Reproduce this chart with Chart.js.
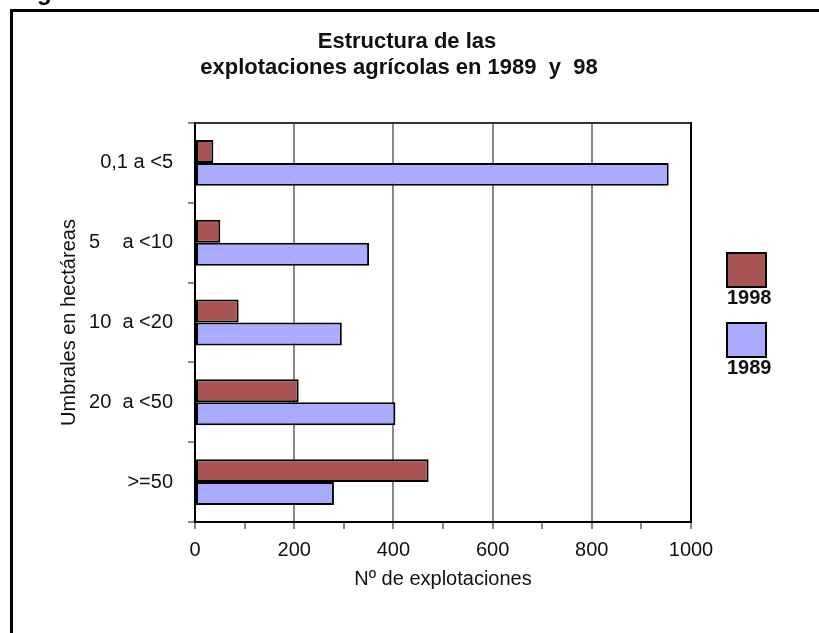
<!DOCTYPE html>
<html>
<head>
<meta charset="utf-8">
<script src="https://cdn.jsdelivr.net/npm/chart.js@4.4.1/dist/chart.umd.min.js"></script>
<style>
  html, body { margin: 0; padding: 0; background: #fff; }
  #wrap { position: relative; width: 819px; height: 633px; }
  canvas { display: block; }
</style>
</head>
<body>
<div id="wrap"><canvas id="c" width="819" height="633"></canvas></div>
<script>
const categories = ["0,1 a <5", "5    a <10", "10  a <20", "20  a <50", ">=50"];
const seriesNames = ["1998", "1989"];
const values1998 = [37, 51, 88, 209, 471];
const values1989 = [955, 351, 296, 404, 280];
const xTickValues = [0, 200, 400, 600, 800, 1000];
const titleLines = ["Estructura de las", "explotaciones agrícolas en 1989  y  98"];
const xTitle = "Nº de explotaciones";
const yTitle = "Umbrales en hectáreas";

const colors = ["#AA5555", "#AAAAFF"];
const FONT = "'Liberation Sans', Arial, Helvetica, sans-serif";

const decor = {
  id: 'decor',
  afterDraw(chart) {
    const ctx = chart.ctx;
    const a = chart.chartArea;
    ctx.save();
    // outer frame
    ctx.strokeStyle = '#000';
    ctx.lineWidth = 3;
    ctx.beginPath();
    ctx.moveTo(11.5, 640);
    ctx.lineTo(11.5, 10.5);
    ctx.lineTo(830, 10.5);
    ctx.stroke();
    // clipped heading fragment
    ctx.fillStyle = '#000';
    ctx.font = "bold 24px " + FONT;
    ctx.textBaseline = 'alphabetic';
    ctx.textAlign = 'left';
    ctx.fillText('g', 37, 0);
    // title
    ctx.fillStyle = '#111';
    ctx.font = "bold 22px " + FONT;
    ctx.textAlign = 'center';
    ctx.textBaseline = 'middle';
    ctx.fillText(titleLines[0], 407, 42);
    ctx.fillText(titleLines[1], 399, 68);
    // plot top and right borders
    ctx.lineWidth = 2;
    ctx.strokeStyle = '#333';
    ctx.beginPath();
    ctx.moveTo(a.left, a.top);
    ctx.lineTo(a.right, a.top);
    ctx.stroke();
    ctx.strokeStyle = '#000';
    ctx.beginPath();
    ctx.moveTo(a.right, a.top - 1);
    ctx.lineTo(a.right, a.bottom);
    ctx.stroke();
    // legend
    const boxes = [253, 323];
    seriesNames.forEach((n, i) => {
      const y = boxes[i];
      ctx.fillStyle = colors[i];
      ctx.fillRect(727, y, 39, 34);
      ctx.strokeStyle = '#000';
      ctx.lineWidth = 2;
      ctx.strokeRect(727, y, 39, 34);
      ctx.fillStyle = '#111';
      ctx.font = "bold 20px " + FONT;
      ctx.textBaseline = 'middle';
      ctx.textAlign = 'left';
      ctx.fillText(n, 727, y + 45);
    });
    ctx.restore();
  }
};

new Chart(document.getElementById('c'), {
  type: 'bar',
  data: {
    labels: categories,
    datasets: [
      { label: seriesNames[0], data: values1998, backgroundColor: colors[0], borderColor: '#000', borderWidth: 2, borderSkipped: false },
      { label: seriesNames[1], data: values1989, backgroundColor: colors[1], borderColor: '#000', borderWidth: 2, borderSkipped: false }
    ]
  },
  options: {
    indexAxis: 'y',
    responsive: false,
    animation: false,
    devicePixelRatio: 1,
    categoryPercentage: 0.575,
    barPercentage: 1.0,
    layout: { padding: { left: 0, top: 123, right: 128, bottom: 0 } },
    plugins: {
      legend: { display: false },
      tooltip: { enabled: false },
      title: { display: false }
    },
    scales: {
      x: {
        min: 0, max: 1000,
        afterFit(s) { s.height = 111; },
        afterBuildTicks(s) {
          const t = [];
          for (let v = 0; v <= 1000; v += 100) t.push({ value: v });
          s.ticks = t;
        },
        ticks: {
          color: '#111',
          font: { family: FONT, size: 20 },
          padding: 9,
          maxRotation: 0,
          autoSkip: false,
          callback: (v) => xTickValues.includes(v) ? String(v) : ''
        },
        grid: {
          color: (c) => (c.tick && xTickValues.includes(c.tick.value)) ? '#888' : 'rgba(0,0,0,0)',
          tickColor: '#888',
          lineWidth: 2,
          tickLength: 7
        },
        border: { display: true, color: '#000', width: 2 },
        title: {
          display: true, text: xTitle, color: '#111',
          font: { family: FONT, size: 20 },
          padding: { top: 0, bottom: 42 }
        }
      },
      y: {
        afterFit(s) { s.width = 195; },
        ticks: {
          color: '#111',
          font: { family: FONT, size: 20 },
          padding: 15
        },
        grid: {
          drawOnChartArea: false,
          color: '#888',
          tickColor: '#888',
          lineWidth: 2,
          tickLength: 7
        },
        border: { display: true, color: '#000', width: 2 },
        title: {
          display: true, text: yTitle, color: '#111',
          font: { family: FONT, size: 20 },
          padding: { top: 57, bottom: 0 }
        }
      }
    }
  },
  plugins: [decor]
});
</script>
</body>
</html>
